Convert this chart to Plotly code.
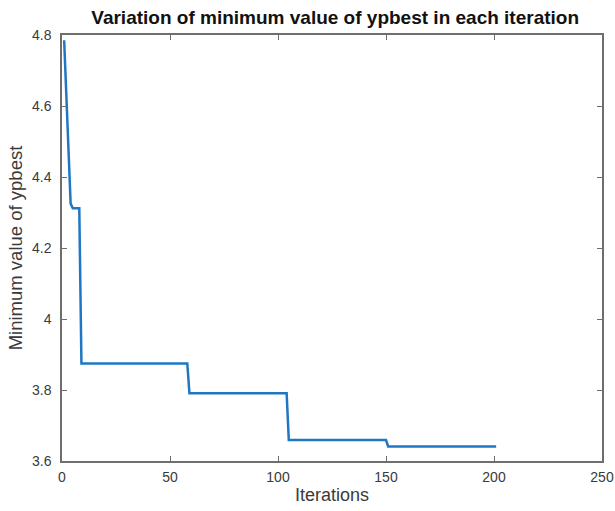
import plotly.graph_objects as go

# Key iterations (breakpoints) and minimum ypbest values
iterations = [1, 2, 3, 4, 5, 8, 9, 58, 59, 104, 105, 150, 151, 201]
ypbest_min = [4.785, 4.63, 4.48, 4.325, 4.312, 4.312, 3.875, 3.875, 3.791, 3.791, 3.659, 3.659, 3.641, 3.641]

x_ticks = [0, 50, 100, 150, 200, 250]
y_ticks = [3.6, 3.8, 4.0, 4.2, 4.4, 4.6, 4.8]
y_tick_text = ["3.6", "3.8", "4", "4.2", "4.4", "4.6", "4.8"]

FONT = "Liberation Sans, Arial, sans-serif"

fig = go.Figure()
fig.add_trace(go.Scatter(
    x=iterations, y=ypbest_min, mode="lines",
    line=dict(color="#1f77c4", width=2.5),
    showlegend=False,
))

axis_common = dict(
    showline=True, linecolor="#6e6e6e", linewidth=1.5, mirror="ticks",
    ticks="inside", ticklen=5, tickcolor="#6e6e6e", tickwidth=1,
    showgrid=False, zeroline=False, automargin=False,
    tickfont=dict(family=FONT, size=14, color="#3a3a3a"),
)

fig.update_xaxes(range=[0, 250], tickvals=x_ticks, ticklabelstandoff=2,
                 title=dict(text="Iterations", standoff=5,
                            font=dict(family=FONT, size=18, color="#3a3a3a")),
                 **axis_common)
fig.update_yaxes(range=[3.6, 4.8], tickvals=y_ticks, ticktext=y_tick_text,
                 ticklabelstandoff=6,
                 title=dict(text="Minimum value of ypbest", standoff=5,
                            font=dict(family=FONT, size=18.5, color="#3a3a3a")),
                 **axis_common)

fig.update_layout(
    width=615, height=511,
    margin=dict(l=62, r=13, t=35, b=50),
    paper_bgcolor="white", plot_bgcolor="white",
    title=dict(text="<b>Variation of minimum value of ypbest in each iteration</b>",
               x=0.545, xanchor="center", y=0.966, yanchor="middle",
               font=dict(family=FONT, size=19, color="#111111")),
)

fig.write_html("out.html", config={"displayModeBar": False},
               post_script="document.body.style.margin='0';document.body.style.padding='0';")
